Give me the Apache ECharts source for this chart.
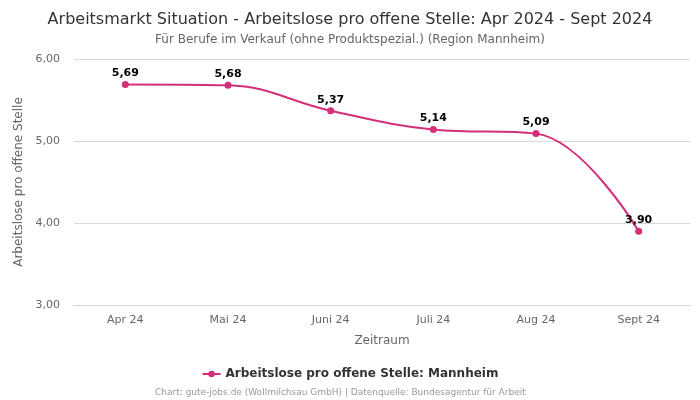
<!DOCTYPE html>
<html><head><meta charset="utf-8">
<script src="https://cdn.jsdelivr.net/npm/echarts@6/dist/echarts.min.js"></script>
<style>html,body{margin:0;padding:0;background:#fff}#c{width:700px;height:400px}</style>
</head><body><div id="c"></div>
<script>
var categories = ['Apr 24','Mai 24','Juni 24','Juli 24','Aug 24','Sept 24'];
var values = [5.69, 5.68, 5.37, 5.14, 5.09, 3.90];
var seriesName = 'Arbeitslose pro offene Stelle: Mannheim';
var yTicks = {min: 3, max: 6, interval: 1};
var fmt = function(v){ return v.toFixed(2).replace('.', ','); };
var font = 'DejaVu Sans';
var chart = echarts.init(document.getElementById('c'), null, {renderer:'canvas'});
chart.setOption({
  animation: false,
  backgroundColor: '#fff',
  title: [{
    text: 'Arbeitsmarkt Situation - Arbeitslose pro offene Stelle: Apr 2024 - Sept 2024',
    left: 'center', top: 7,
    textStyle: {fontFamily: font, fontSize: 16, fontWeight: 'normal', color: '#333'}
  },{
    text: 'Für Berufe im Verkauf (ohne Produktspezial.) (Region Mannheim)',
    left: 'center', top: 29,
    textStyle: {fontFamily: font, fontSize: 12, fontWeight: 'normal', color: '#666'}
  },{
    text: 'Chart: gute-jobs.de (Wollmilchsau GmbH) | Datenquelle: Bundesagentur für Arbeit',
    left: 150, top: 383,
    textStyle: {fontFamily: font, fontSize: 9, fontWeight: 'normal', color: '#999'}
  }],
  legend: {
    data: [seriesName], bottom: 15, left: 'center',
    itemWidth: 18, itemHeight: 8,
    textStyle: {fontFamily: font, fontSize: 12, fontWeight: 'bold', color: '#333'}
  },
  grid: {left: 74, right: 10, top: 59, bottom: 95},
  xAxis: {
    type: 'category', data: categories, boundaryGap: true,
    name: 'Zeitraum', nameLocation: 'middle', nameGap: 30,
    nameTextStyle: {fontFamily: font, fontSize: 12, color: '#666'},
    axisLine: {show: true, lineStyle: {color: '#ccd6eb'}},
    axisTick: {show: false},
    axisLabel: {fontFamily: font, fontSize: 11, color: '#666', margin: 10}
  },
  yAxis: {
    type: 'value', min: yTicks.min, max: yTicks.max, interval: yTicks.interval,
    name: 'Arbeitslose pro offene Stelle', nameLocation: 'middle', nameGap: 45,
    nameTextStyle: {fontFamily: font, fontSize: 12, color: '#666'},
    axisLabel: {fontFamily: font, fontSize: 11, color: '#666', formatter: fmt, margin: 14},
    splitLine: {lineStyle: {color: '#d8d8d8'}},
    axisLine: {show: false}, axisTick: {show: false}
  },
  series: [{
    name: seriesName, type: 'line', data: values,
    smooth: 0.4,
    symbol: 'circle', symbolSize: 7,
    itemStyle: {color: '#d42f7b'},
    lineStyle: {color: '#d42f7b', width: 2},
    label: {show: true, position: 'top', distance: 2, formatter: function(p){return fmt(p.value);},
      fontFamily: 'DejaVu Sans', fontSize: 11, fontWeight: 'bold', color: '#000'}
  }]
});
</script></body></html>
